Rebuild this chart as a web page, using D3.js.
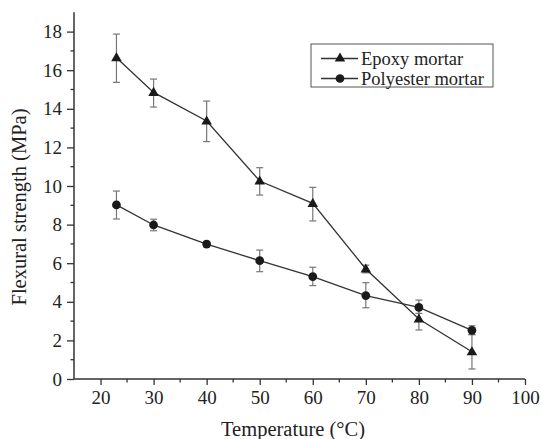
<!DOCTYPE html>
<html><head><meta charset="utf-8">
<script src="https://cdn.jsdelivr.net/npm/d3@7"></script>
<style>body{margin:0;background:#fff}svg{display:block}</style>
</head><body><svg id="c" width="542" height="439"></svg>
<script>
const temps = [23, 30, 40, 50, 60, 70, 80, 90];
const epoxy = [16.65, 14.85, 13.37, 10.26, 9.1, 5.7, 3.11, 1.41];
const epoxyLo = [15.37, 14.09, 12.3, 9.53, 8.19, 5.5, 2.54, 0.52];
const epoxyHi = [17.87, 15.54, 14.4, 10.95, 9.93, 5.9, 3.65, 2.3];
const poly = [9.02, 7.98, 6.99, 6.13, 5.3, 4.32, 3.71, 2.52];
const polyLo = [8.29, 7.68, 6.85, 5.56, 4.84, 3.69, 3.4, 2.3];
const polyHi = [9.74, 8.28, 7.13, 6.68, 5.79, 4.99, 4.09, 2.76];
const xTicks = [20, 30, 40, 50, 60, 70, 80, 90, 100];
const yTicks = [0, 2, 4, 6, 8, 10, 12, 14, 16, 18];
const seriesNames = ["Epoxy mortar", "Polyester mortar"];

const FONT = "Liberation Serif";
const svg = d3.select("#c");
const x = d3.scaleLinear().domain([15, 100]).range([74, 525]);
const y = d3.scaleLinear().domain([0, 19]).range([379, 12.3]);

// axes
const xAxis = d3.axisBottom(x).tickValues(xTicks).tickSize(6).tickPadding(5).tickFormat(d3.format("d"));
const gx = svg.append("g").attr("transform", "translate(0,379)").call(xAxis).attr("font-family", null).attr("font-size", null);
gx.select(".domain").remove();
gx.append("line").attr("x1", 74).attr("x2", 525).attr("stroke", "#333").attr("stroke-width", 1.5);
gx.selectAll(".tick line").attr("stroke", "#333").attr("stroke-width", 1.3);
gx.selectAll(".tick text").style("font-size", "19px").style("font-family", FONT).attr("fill", "#222").attr("dy", "0.75em");
gx.selectAll(".minor").data(d3.range(25, 100, 10)).enter().append("line")
  .attr("x1", d => x(d)).attr("x2", d => x(d)).attr("y1", 0).attr("y2", 3.5).attr("stroke", "#333").attr("stroke-width", 1.3);

const yAxis = d3.axisLeft(y).tickValues(yTicks).tickSize(7).tickPadding(5);
const gy = svg.append("g").attr("transform", "translate(74,0)").call(yAxis).attr("font-family", null).attr("font-size", null);
gy.select(".domain").remove();
gy.append("line").attr("y1", 379).attr("y2", 12.3).attr("stroke", "#333").attr("stroke-width", 1.5);
gy.selectAll(".tick line").attr("stroke", "#333").attr("stroke-width", 1.3);
gy.selectAll(".tick text").style("font-size", "19px").style("font-family", FONT).attr("fill", "#222");
gy.selectAll(".minor").data(d3.range(1, 19, 2)).enter().append("line")
  .attr("y1", d => y(d)).attr("y2", d => y(d)).attr("x1", 0).attr("x2", -3.5).attr("stroke", "#333").attr("stroke-width", 1.3);

svg.append("text").attr("x", 293).attr("y", 436).attr("text-anchor", "middle")
  .style("font-size", "20.5px").style("font-family", FONT).attr("fill", "#222").text("Temperature (°C)");
svg.append("text").attr("transform", "translate(25.5,207) rotate(-90)").attr("text-anchor", "middle")
  .style("font-size", "20.5px").style("font-family", FONT).attr("fill", "#222").text("Flexural strength (MPa)");

const line = d3.line().x(d => x(d[0])).y(d => y(d[1]));
function drawSeries(vals, lo, hi, shape) {
  const pts = temps.map((t, i) => [t, vals[i]]);
  const g = svg.append("g");
  temps.forEach((t, i) => {
    const cx = x(t);
    g.append("line").attr("x1", cx).attr("x2", cx).attr("y1", y(lo[i])).attr("y2", y(hi[i])).attr("stroke", "#777").attr("stroke-width", 1.2);
    [lo[i], hi[i]].forEach(v => g.append("line").attr("x1", cx - 3.5).attr("x2", cx + 3.5).attr("y1", y(v)).attr("y2", y(v)).attr("stroke", "#777").attr("stroke-width", 1.2));
  });
  g.append("path").datum(pts).attr("d", line).attr("fill", "none").attr("stroke", "#333").attr("stroke-width", 1.3);
  const sym = d3.symbol().type(shape === "tri" ? d3.symbolTriangle : d3.symbolCircle).size(shape === "tri" ? 48 : 60);
  g.selectAll(".m").data(pts).enter().append("path")
    .attr("d", sym).attr("transform", d => `translate(${x(d[0])},${y(d[1]) + (shape === "tri" ? 0.5 : 0)})`).attr("fill", "#1a1a1a");
}
drawSeries(epoxy, epoxyLo, epoxyHi, "tri");
drawSeries(poly, polyLo, polyHi, "circ");

// legend
const lg = svg.append("g");
lg.append("rect").attr("x", 311).attr("y", 44).attr("width", 182).attr("height", 43).attr("fill", "#fff").attr("stroke", "#555").attr("stroke-width", 1);
[["tri", 58.5], ["circ", 78.5]].forEach(([s, yy], i) => {
  lg.append("line").attr("x1", 321).attr("x2", 358).attr("y1", yy).attr("y2", yy).attr("stroke", "#333").attr("stroke-width", 1.3);
  lg.append("path").attr("d", d3.symbol().type(s === "tri" ? d3.symbolTriangle : d3.symbolCircle).size(s === "tri" ? 48 : 60))
    .attr("transform", `translate(340,${yy})`).attr("fill", "#1a1a1a");
  lg.append("text").attr("x", 361).attr("y", yy + 6).style("font-size", "18.5px").style("font-family", FONT).attr("fill", "#222").text(seriesNames[i]);
});
</script></body></html>
